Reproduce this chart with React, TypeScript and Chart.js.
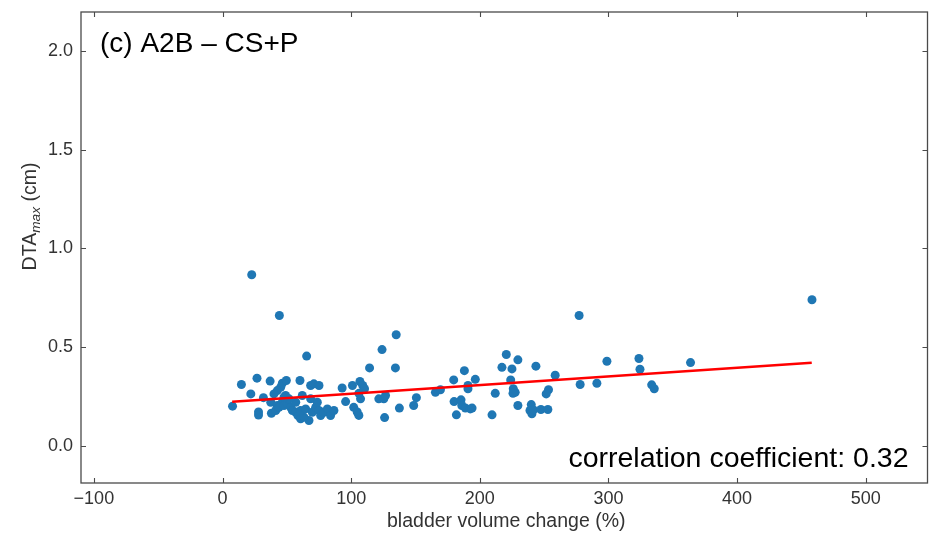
import React, { useEffect, useRef } from "react";
import { Chart, registerables } from "chart.js";

Chart.register(...registerables);

// ---- data ----
const xValues = [
  22.7, 44.2, 65.4, 124, 135, 114.3, 134.4, 7.8, 14.7, 26.8,
  22, 28, 28, 38, 37, 31.8, 46.5, 49.6, 45.2, 42.6,
  40, 49, 37.5, 42.6, 46.5, 60.2, 68.5, 71, 75, 62,
  67.2, 41.4, 43.9, 47.8, 50.4, 53, 54.3, 56.9, 58.6, 60.7,
  63.3, 60.7, 64.6, 69.8, 72.4, 75, 76.3, 78.8, 81.5, 84,
  86.6, 68.5, 56.9, 51.7, 47.8, 73.7, 93, 95.7, 101, 102,
  104.7, 106, 106.8, 109, 110.4, 106, 107.3, 121.5, 125.4, 126.7,
  126, 137.5, 148.6, 150.7, 165.5, 169.4, 179.7, 188, 190.8, 190.8,
  180, 185.4, 186, 188.8, 192.6, 181.8, 196.5, 220.6, 229.6, 217.2,
  225, 243.6, 224, 226, 227.5, 225.8, 258.6, 212, 253.4, 251.6,
  278, 291, 298.8, 194, 209.5, 229.6, 240, 239, 240.5, 241.7,
  247.5, 252.9, 458.2, 323.7, 324.5, 333.6, 335.6, 363.8, 277.2,
];
const yValues = [
  0.867, 0.66, 0.454, 0.487, 0.562, 0.394, 0.394, 0.2, 0.31, 0.342,
  0.262, 0.17, 0.155, 0.164, 0.327, 0.243, 0.316, 0.33, 0.296, 0.279,
  0.262, 0.254, 0.22, 0.203, 0.22, 0.33, 0.305, 0.313, 0.305, 0.254,
  0.127, 0.178, 0.194, 0.203, 0.212, 0.194, 0.178, 0.169, 0.152, 0.136,
  0.144, 0.178, 0.186, 0.169, 0.194, 0.178, 0.152, 0.169, 0.186, 0.152,
  0.178, 0.237, 0.22, 0.237, 0.245, 0.22, 0.292, 0.223, 0.305, 0.194,
  0.17, 0.153, 0.325, 0.305, 0.288, 0.265, 0.237, 0.237, 0.237, 0.254,
  0.142, 0.19, 0.203, 0.243, 0.27, 0.283, 0.333, 0.38, 0.305, 0.288,
  0.223, 0.232, 0.203, 0.19, 0.186, 0.156, 0.336, 0.462, 0.435, 0.397,
  0.389, 0.403, 0.333, 0.288, 0.27, 0.265, 0.357, 0.265, 0.283, 0.262,
  0.31, 0.316, 0.428, 0.19, 0.156, 0.203, 0.208, 0.178, 0.161, 0.181,
  0.183, 0.183, 0.74, 0.442, 0.387, 0.308, 0.288, 0.421, 0.66,
];
const fitX = [7.5, 458];
const fitY = [0.222, 0.42];

const xTickValues = [-100, 0, 100, 200, 300, 400, 500];
const yTickValues = [0, 0.5, 1.0, 1.5, 2.0];
const xRange = [-110, 548];
const yRange = [-0.19, 2.2];

const panelTitle = "(c) A2B \u2013 CS+P";
const xAxisLabel = "bladder volume change (%)";
const yAxisMain = "DTA";
const yAxisSub = "max";
const yAxisUnit = " (cm)";
const corrText = "correlation coefficient: 0.32";

const FONT = "'Liberation Sans', Arial, sans-serif";

const framePlugin = {
  id: "mplFrame",
  afterDraw(chart: any) {
    const { ctx, chartArea: a, scales } = chart;
    const xs = scales.x;
    const ys = scales.y;
    ctx.save();
    // frame
    ctx.strokeStyle = "#4a4a4a";
    ctx.lineWidth = 1.3;
    ctx.strokeRect(a.left, a.top, a.right - a.left, a.bottom - a.top);
    // inward ticks on all four sides
    const tl = 5;
    ctx.lineWidth = 1.1;
    ctx.beginPath();
    xTickValues.forEach((v) => {
      const px = Math.round(xs.getPixelForValue(v)) + 0.5;
      ctx.moveTo(px, a.bottom);
      ctx.lineTo(px, a.bottom - tl);
      ctx.moveTo(px, a.top);
      ctx.lineTo(px, a.top + tl);
    });
    yTickValues.forEach((v) => {
      const py = Math.round(ys.getPixelForValue(v)) + 0.5;
      ctx.moveTo(a.left, py);
      ctx.lineTo(a.left + tl, py);
      ctx.moveTo(a.right, py);
      ctx.lineTo(a.right - tl, py);
    });
    ctx.stroke();

    // panel title
    ctx.fillStyle = "#000";
    ctx.textBaseline = "alphabetic";
    ctx.textAlign = "left";
    ctx.font = `28px ${FONT}`;
    ctx.fillText(panelTitle, a.left + 19, a.top + 40);

    // correlation text
    ctx.textAlign = "right";
    ctx.font = `28.5px ${FONT}`;
    ctx.fillText(corrText, a.right - 19, a.bottom - 16);

    // x axis label
    ctx.fillStyle = "#333";
    ctx.textAlign = "center";
    ctx.font = `19.5px ${FONT}`;
    ctx.fillText(xAxisLabel, (a.left + a.right) / 2 + 2, a.bottom + 44);

    // y axis label with italic subscript
    const cx = a.left - 45;
    const cy = a.top + 204.5;
    ctx.translate(cx, cy);
    ctx.rotate(-Math.PI / 2);
    const mainFont = `19.5px ${FONT}`;
    const subFont = `italic 13.7px ${FONT}`;
    ctx.font = mainFont;
    const w1 = ctx.measureText(yAxisMain).width;
    const w3 = ctx.measureText(yAxisUnit).width;
    ctx.font = subFont;
    const w2 = ctx.measureText(yAxisSub).width;
    let x0 = -(w1 + w2 + w3) / 2;
    ctx.textAlign = "left";
    ctx.font = mainFont;
    ctx.fillText(yAxisMain, x0, 0);
    x0 += w1;
    ctx.font = subFont;
    ctx.fillText(yAxisSub, x0, 4);
    x0 += w2;
    ctx.font = mainFont;
    ctx.fillText(yAxisUnit, x0, 0);
    ctx.restore();
  },
};

const fmtX = (v: number) => (v < 0 ? "\u2212" + Math.abs(v) : String(v));

export default function App() {
  const canvasRef = useRef<HTMLCanvasElement | null>(null);

  useEffect(() => {
    document.body.style.margin = "0";
    const canvas = canvasRef.current;
    if (!canvas) return;
    const points = xValues.map((x, i) => ({ x, y: yValues[i] }));
    const fitPoints = fitX.map((x, i) => ({ x, y: fitY[i] }));
    const chart = new Chart(canvas, {
      type: "scatter",
      data: {
        datasets: [
          {
            type: "scatter",
            data: points,
            backgroundColor: "#1f77b4",
            borderWidth: 0,
            pointRadius: 4.5,
            pointHoverRadius: 4.5,
            order: 1,
          } as any,
          {
            type: "line",
            data: fitPoints,
            borderColor: "#ff0000",
            borderWidth: 2.5,
            pointRadius: 0,
            fill: false,
            order: 0,
          } as any,
        ],
      },
      options: {
        responsive: false,
        maintainAspectRatio: false,
        animation: false,
        devicePixelRatio: 1,
        layout: { padding: { top: 12, right: 4, left: 0, bottom: 0 } },
        plugins: {
          legend: { display: false },
          tooltip: { enabled: false },
        },
        scales: {
          x: {
            type: "linear",
            min: xRange[0],
            max: xRange[1],
            afterBuildTicks: (s: any) => {
              s.ticks = xTickValues.map((v) => ({ value: v }));
            },
            afterFit: (s: any) => {
              s.height = 52;
              s.paddingLeft = 0;
              s.paddingRight = 0;
            },
            grid: { display: false, drawTicks: false },
            border: { display: false },
            ticks: {
              padding: 5,
              color: "#333",
              maxRotation: 0,
              font: { family: FONT, size: 18 },
              callback: (v: any) => fmtX(Number(v)),
            },
          },
          y: {
            type: "linear",
            min: yRange[0],
            max: yRange[1],
            afterBuildTicks: (s: any) => {
              s.ticks = yTickValues.map((v) => ({ value: v }));
            },
            afterFit: (s: any) => {
              s.width = 81;
              s.paddingTop = 0;
              s.paddingBottom = 0;
            },
            grid: { display: false, drawTicks: false },
            border: { display: false },
            ticks: {
              padding: 8,
              color: "#333",
              font: { family: FONT, size: 18 },
              callback: (v: any) => Number(v).toFixed(1),
            },
          },
        },
      },
      plugins: [framePlugin],
    });
    return () => chart.destroy();
  }, []);

  return (
    <div style={{ width: 932, height: 535, position: "relative", background: "#fff" }}>
      <canvas ref={canvasRef} width={932} height={535} style={{ display: "block" }} />
    </div>
  );
}
